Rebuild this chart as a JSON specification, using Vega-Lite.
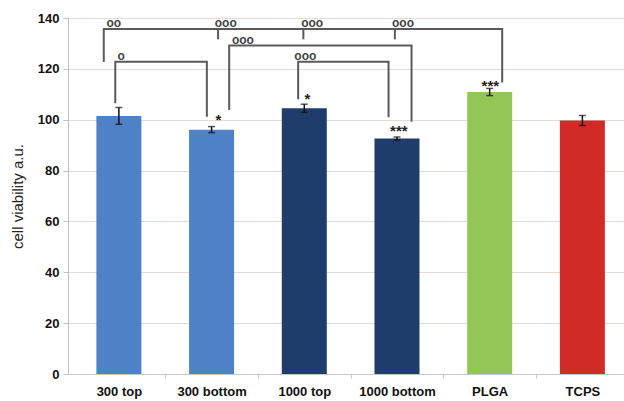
{
  "$schema": "https://vega.github.io/schema/vega-lite/v6.json",
  "autosize": {"type": "none"},
  "padding": {"left": 68, "top": 18, "right": 0, "bottom": 27},
  "width": 556,
  "height": 356,
  "background": "white",
  "config": {
    "view": {"stroke": null},
    "font": "Liberation Sans"
  },
  "datasets": {
    "bars": [
      {"pos": 1, "sample": "300 top", "material": "300", "value": 101.5, "err": 3.3},
      {"pos": 2, "sample": "300 bottom", "material": "300", "value": 96.1, "err": 1.2},
      {"pos": 3, "sample": "1000 top", "material": "1000", "value": 104.5, "err": 1.6},
      {"pos": 4, "sample": "1000 bottom", "material": "1000", "value": 92.6, "err": 0.6},
      {"pos": 5, "sample": "PLGA", "material": "PLGA", "value": 110.9, "err": 1.4},
      {"pos": 6, "sample": "TCPS", "material": "TCPS", "value": 99.7, "err": 2.0}
    ],
    "brackets": [
      {"id": "b1", "seq": 1, "pos": 0.837, "y": 122.7},
      {"id": "b1", "seq": 2, "pos": 0.837, "y": 135.7},
      {"id": "b1", "seq": 3, "pos": 5.135, "y": 135.7},
      {"id": "b1", "seq": 4, "pos": 5.135, "y": 114.6},
      {"id": "t1", "seq": 1, "pos": 2.07, "y": 135.7},
      {"id": "t1", "seq": 2, "pos": 2.07, "y": 131.6},
      {"id": "t2", "seq": 1, "pos": 2.99, "y": 135.7},
      {"id": "t2", "seq": 2, "pos": 2.99, "y": 131.6},
      {"id": "t3", "seq": 1, "pos": 3.977, "y": 135.7},
      {"id": "t3", "seq": 2, "pos": 3.977, "y": 131.6},
      {"id": "b2", "seq": 1, "pos": 2.19, "y": 103.8},
      {"id": "b2", "seq": 2, "pos": 2.19, "y": 129.2},
      {"id": "b2", "seq": 3, "pos": 4.157, "y": 129.2},
      {"id": "b2", "seq": 4, "pos": 4.157, "y": 99.2},
      {"id": "b3", "seq": 1, "pos": 0.961, "y": 106.5},
      {"id": "b3", "seq": 2, "pos": 0.961, "y": 122.8},
      {"id": "b3", "seq": 3, "pos": 1.949, "y": 122.8},
      {"id": "b3", "seq": 4, "pos": 1.949, "y": 101.2},
      {"id": "b4", "seq": 1, "pos": 2.934, "y": 108.0},
      {"id": "b4", "seq": 2, "pos": 2.934, "y": 122.8},
      {"id": "b4", "seq": 3, "pos": 3.909, "y": 122.8},
      {"id": "b4", "seq": 4, "pos": 3.909, "y": 101.0}
    ],
    "circles": [
      {"pos": 0.945, "y": 137.6, "label": "oo"},
      {"pos": 2.153, "y": 137.6, "label": "ooo"},
      {"pos": 3.085, "y": 137.6, "label": "ooo"},
      {"pos": 4.065, "y": 137.6, "label": "ooo"},
      {"pos": 2.338, "y": 131.0, "label": "ooo"},
      {"pos": 1.024, "y": 124.7, "label": "o"},
      {"pos": 3.011, "y": 124.7, "label": "ooo"}
    ],
    "stars": [
      {"pos": 2.073, "y": 101.1, "label": "*"},
      {"pos": 3.034, "y": 109.5, "label": "*"},
      {"pos": 4.02, "y": 96.8, "label": "***"},
      {"pos": 5.007, "y": 114.6, "label": "***"}
    ]
  },
  "layer": [
    {
      "data": {"name": "bars"},
      "mark": {"type": "bar", "size": 45},
      "encoding": {
        "x": {
          "field": "pos",
          "type": "quantitative",
          "title": null,
          "scale": {"domain": [0.505, 6.395], "nice": false, "zero": false},
          "axis": {
            "values": [1, 1.5, 2, 2.5, 3, 3.5, 4, 4.5, 5, 5.5, 6],
            "labelExpr": "datum.value == 1 ? '300 top' : datum.value == 2 ? '300 bottom' : datum.value == 3 ? '1000 top' : datum.value == 4 ? '1000 bottom' : datum.value == 5 ? 'PLGA' : datum.value == 6 ? 'TCPS' : ''",
            "grid": false,
            "domainColor": "#c8c8c8",
            "tickColor": "#c8c8c8",
            "tickSize": 4,
            "tickOpacity": {"condition": {"test": "datum.value % 1 == 0", "value": 0}, "value": 1},
            "labelFont": "Liberation Sans",
            "labelFontSize": 13,
            "labelFontWeight": "bold",
            "labelColor": "#111",
            "labelPadding": 7,
            "labelFlush": false,
            "labelOverlap": false
          }
        },
        "y": {
          "field": "value",
          "type": "quantitative",
          "title": "cell viability a.u.",
          "scale": {"domain": [0, 140], "nice": false},
          "axis": {
            "values": [0, 20, 40, 60, 80, 100, 120, 140],
            "titleFont": "Liberation Sans",
            "titleFontSize": 15,
            "titleFontWeight": "normal",
            "titleColor": "#222",
            "titlePadding": 12,
            "gridColor": "#e8d8d6",
            "gridWidth": 1,
            "domainColor": "#c0c0c0",
            "tickColor": "#c0c0c0",
            "tickSize": 5,
            "labelFont": "Liberation Sans",
            "labelFontSize": 13,
            "labelFontWeight": "bold",
            "labelColor": "#111",
            "labelPadding": 4
          }
        },
        "color": {
          "field": "material",
          "type": "nominal",
          "scale": {
            "domain": ["300", "1000", "PLGA", "TCPS"],
            "range": ["#4f81c6", "#1f3d6a", "#92c757", "#d02b27"]
          },
          "legend": null
        }
      }
    },
    {
      "data": {"name": "bars"},
      "mark": {"type": "errorbar", "ticks": {"size": 7}, "color": "#111", "thickness": 1.5},
      "encoding": {
        "x": {"field": "pos", "type": "quantitative", "title": null},
        "y": {"field": "value", "type": "quantitative", "title": "cell viability a.u."},
        "yError": {"field": "err"}
      }
    },
    {
      "data": {"name": "brackets"},
      "mark": {"type": "line", "color": "#5a5a5a", "strokeWidth": 2, "strokeCap": "butt", "strokeJoin": "miter"},
      "encoding": {
        "x": {"field": "pos", "type": "quantitative", "title": null},
        "y": {"field": "y", "type": "quantitative", "title": "cell viability a.u."},
        "detail": {"field": "id"},
        "order": {"field": "seq"}
      }
    },
    {
      "data": {"name": "circles"},
      "mark": {"type": "text", "font": "Liberation Sans", "fontSize": 12, "fontWeight": "bold", "color": "#444", "baseline": "alphabetic", "align": "center", "dy": 3},
      "encoding": {
        "x": {"field": "pos", "type": "quantitative", "title": null},
        "y": {"field": "y", "type": "quantitative", "title": "cell viability a.u."},
        "text": {"field": "label"}
      }
    },
    {
      "data": {"name": "stars"},
      "mark": {"type": "text", "font": "Liberation Sans", "fontSize": 15, "fontWeight": "bold", "color": "#222", "baseline": "middle", "align": "center", "dy": 3},
      "encoding": {
        "x": {"field": "pos", "type": "quantitative", "title": null},
        "y": {"field": "y", "type": "quantitative", "title": "cell viability a.u."},
        "text": {"field": "label"}
      }
    }
  ]
}
